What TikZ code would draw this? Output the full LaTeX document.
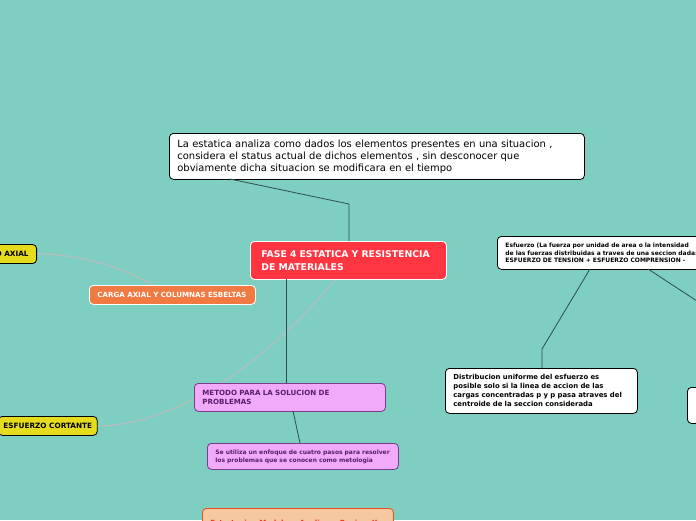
\documentclass[tikz,border=0pt]{standalone}
\usepackage{fontspec}
\setmainfont{DejaVu Sans}
\definecolor{bg}{HTML}{7ECEC1}
\definecolor{redc}{HTML}{FF3542}
\definecolor{orangec}{HTML}{F07A42}
\definecolor{yellowc}{HTML}{E6DC1E}
\definecolor{purfill}{HTML}{F0AAF8}
\definecolor{purdraw}{HTML}{7A3C8C}
\definecolor{purtext}{HTML}{5A1E6A}
\definecolor{peachfill}{HTML}{F5C8A0}
\definecolor{peachdraw}{HTML}{F0501E}
\definecolor{peachtext}{HTML}{F0321E}
\definecolor{linec}{HTML}{2E4E4E}
\definecolor{grayc}{HTML}{B4BEBE}
\tikzset{
  box/.style={anchor=north west, rounded corners=4pt, align=left, inner xsep=8pt, inner ysep=3pt, line width=0.8pt},
  whitebox/.style={box, fill=white, draw=black},
  redbox/.style={box, fill=redc, draw=white, text=white, font=\bfseries\fontsize{9.3}{13.5}\selectfont, inner xsep=11pt},
  orangebox/.style={box, fill=orangec, draw=white, text=white, font=\bfseries\fontsize{7.1}{8}\selectfont},
  yellowbox/.style={box, fill=yellowc, draw=black, text=black, font=\bfseries\fontsize{7.3}{8}\selectfont},
  purbox/.style={box, fill=purfill, draw=purdraw, text=purtext, font=\bfseries\fontsize{7.1}{8.5}\selectfont},
  peachbox/.style={box, fill=peachfill, draw=peachdraw, text=peachtext, font=\bfseries\fontsize{7.1}{8.5}\selectfont},
  conn/.style={draw=linec, line width=0.8pt},
  curve/.style={draw=grayc, line width=1.2pt},
}
\begin{document}
\begin{tikzpicture}[x=1pt,y=-1pt]
\useasboundingbox (0,0) rectangle (696,520);
\fill[bg] (0,0) rectangle (696,520);
\clip (0,0) rectangle (696,520);

% curves (behind)
\coordinate (cstart) at (335,280);
\coordinate (astart) at (155,286);
\node[yellowbox, anchor=east, minimum height=19pt] (axial) at (37,254) {ESFUERZO AXIAL};
\node[yellowbox, inner xsep=5pt, minimum height=19pt] (cort) at (-2,416) {ESFUERZO CORTANTE};
\draw[curve] (axial.east) .. controls (90,254) and (130,272) .. (astart);
\draw[curve] (cstart) .. controls (260,370) and (170,426) .. (cort.east);

% nodes
\node[whitebox, text width=399pt, minimum height=46pt, inner ysep=4pt, font=\fontsize{9.95}{12}\selectfont] (top) at (169,133)
  {La estatica analiza como dados los elementos presentes en una situacion ,\\
   considera el status actual de dichos elementos , sin desconocer que\\
   obviamente dicha situacion se modificara en el tiempo};
\node[redbox, text width=174pt, minimum height=38pt] (main) at (250,241)
  {FASE 4 ESTATICA Y RESISTENCIA\\DE MATERIALES};
\node[orangebox, text width=150pt, minimum height=19pt] (carga) at (89,285)
  {CARGA AXIAL Y COLUMNAS ESBELTAS};
\node[purbox, text width=175pt, minimum height=28pt] (metodo) at (194,383)
  {METODO PARA LA SOLUCION DE\\PROBLEMAS};
\node[purbox, text width=175pt, minimum height=26pt, font=\bfseries\fontsize{6}{8}\selectfont] (utiliza) at (207,443)
  {Se utiliza un enfoque de cuatro pasos para resolver\\los problemas que se conocen como metologia};
\node[peachbox, text width=175pt, minimum height=30pt, inner ysep=2pt] (estrat) at (202,508)
  {Estrategia - Modelar - Analizar - Revisar Y};
\node[whitebox, text width=199pt, minimum height=33pt, inner ysep=3pt, font=\bfseries\fontsize{6}{7.2}\selectfont] (esf) at (497,236)
  {Esfuerzo (La fuerza por unidad de area o la intensidad\\
   de las fuerzas distribuidas a traves de una seccion dada:\\
   ESFUERZO DE TENSION + ESFUERZO COMPRENSION -};
\node[whitebox, text width=176pt, minimum height=45pt, inner ysep=5pt, font=\bfseries\fontsize{6.9}{9}\selectfont] (distr) at (445,368)
  {Distribucion uniforme del esfuerzo es\\
   posible solo si la linea de accion de las\\
   cargas concentradas p y p pasa atraves del\\
   centroide de la seccion considerada};
\node[whitebox, text width=60pt, minimum height=36pt] (rightnode) at (687,387) {};

% connectors
\coordinate (topfoot) at (230,179);
\coordinate (bend1) at (349,204);
\draw[conn] (topfoot) -- (bend1) -- (bend1 |- main.north);
\coordinate (mfoot) at (286,279);
\draw[conn] (mfoot) -- (mfoot |- metodo.north);
\coordinate (mtfoot) at (293,411);
\coordinate (uthead) at (300,443);
\draw[conn] (mtfoot) -- (uthead);
\coordinate (efoot) at (590,269);
\coordinate (bend2) at (542,349);
\draw[conn] (efoot) -- (bend2) -- (bend2 |- distr.north);
\coordinate (efoot2) at (648,269);
\coordinate (eout) at (720,316);
\draw[conn] (efoot2) -- (eout);
\end{tikzpicture}
\end{document}
